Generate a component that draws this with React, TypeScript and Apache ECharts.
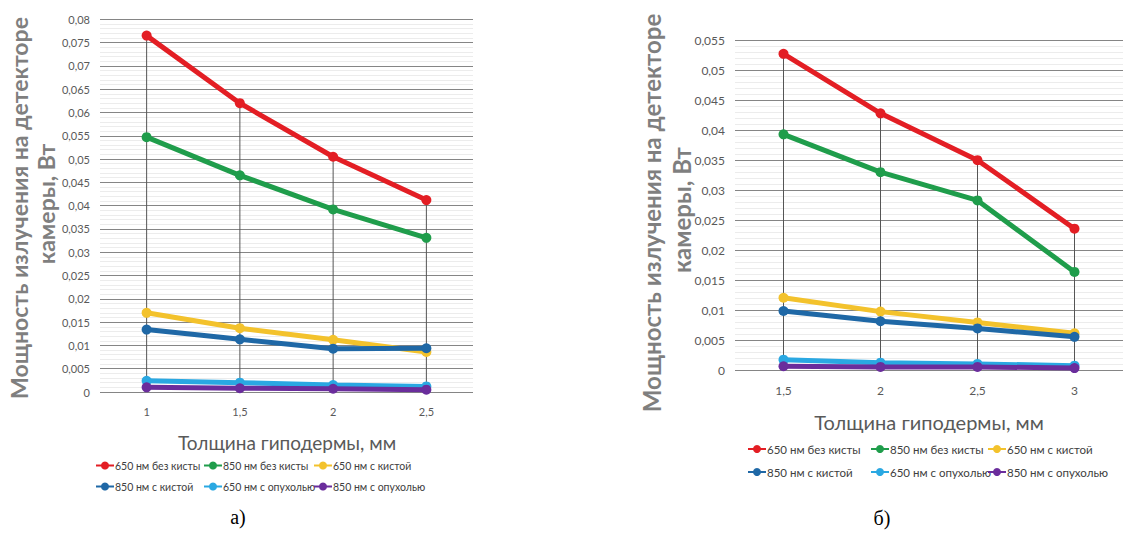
import React, { useEffect, useRef } from "react";
import * as echarts from "echarts";

const categoriesA = ["1", "1,5", "2", "2,5"];
const categoriesB = ["1,5", "2", "2,5", "3"];
const seriesNames = [
  "650 нм без кисты",
  "850 нм без кисты",
  "650 нм с кистой",
  "850 нм с кистой",
  "650 нм с опухолью",
  "850 нм с опухолью",
];
const seriesColors = ["#e31e24", "#1f9d4b", "#f3c22c", "#1f68a6", "#2aa8e2", "#6a2d9c"];

// chart a)
const a650NoCyst = [0.0765, 0.062, 0.0505, 0.0412];
const a850NoCyst = [0.0547, 0.0465, 0.0392, 0.0331];
const a650Cyst = [0.017, 0.0137, 0.0112, 0.0086];
const a850Cyst = [0.0134, 0.0113, 0.0093, 0.0094];
const a650Tumor = [0.0024, 0.002, 0.0015, 0.0012];
const a850Tumor = [0.001, 0.0008, 0.0007, 0.0005];

// chart б)
const b650NoCyst = [0.0527, 0.0428, 0.035, 0.0236];
const b850NoCyst = [0.0393, 0.033, 0.0283, 0.0164];
const b650Cyst = [0.0121, 0.0098, 0.008, 0.0062];
const b850Cyst = [0.0099, 0.0082, 0.007, 0.0056];
const b650Tumor = [0.0018, 0.0013, 0.0011, 0.0008];
const b850Tumor = [0.0007, 0.0006, 0.0006, 0.0004];

const yTitle1 = "Мощность излучения на детекторе";
const yTitle2 = "камеры, Вт";
const xTitle = "Толщина гиподермы, мм";

const FONT = "Lato, 'Open Sans', sans-serif";

export default function App() {
  const ref = useRef<HTMLDivElement>(null);
  useEffect(() => {
    if (!ref.current) return;
    const chart = echarts.init(ref.current, undefined, { renderer: "svg" });
    const dataA = [a650NoCyst, a850NoCyst, a650Cyst, a850Cyst, a650Tumor, a850Tumor];
    const dataB = [b650NoCyst, b850NoCyst, b650Cyst, b850Cyst, b650Tumor, b850Tumor];
    const fmt = (v: number) => String(+v.toFixed(3)).replace(".", ",");

    const mkSeries = (data: number[][], idx: number) =>
      data.map((vals, i) => ({
        type: "line",
        name: seriesNames[i],
        xAxisIndex: idx,
        yAxisIndex: idx,
        data: vals,
        symbol: "circle",
        symbolSize: 10,
        lineStyle: { width: 5, color: seriesColors[i] },
        itemStyle: { color: seriesColors[i] },
        z: 3 + i,
      }));
    const dropSeries = (vals: number[], idx: number) => ({
      type: "bar",
      name: "drop" + idx,
      xAxisIndex: idx,
      yAxisIndex: idx,
      data: vals,
      barWidth: 1,
      itemStyle: { color: "#555" },
      silent: true,
      z: 1,
    });

    const legendCols = [
      [95, 203, 313],
      [747, 870, 987],
    ];
    const legendRows = [
      [467, 488],
      [450, 473],
    ];
    const legendFont = [10.5, 11.5];
    const legends: any[] = [];
    for (let c = 0; c < 2; c++) {
      seriesNames.forEach((n, i) => {
        legends.push({
          data: [n],
          left: legendCols[c][i % 3],
          top: legendRows[c][Math.floor(i / 3)] - 7,
          padding: 0,
          itemWidth: 18,
          itemHeight: 10,
          textStyle: { fontSize: legendFont[c], color: "#404040", fontFamily: FONT, padding: [0, 0, 0, -4] },
        });
      });
    }

    const mkY = (max: number, gridIndex: number, fs: number) => ({
      type: "value",
      gridIndex,
      min: 0,
      max,
      interval: 0.005,
      axisLine: { show: false },
      axisTick: { show: false },
      axisLabel: { formatter: fmt, fontSize: fs, color: "#595959", fontFamily: FONT, margin: 10 },
      splitLine: { show: true, lineStyle: { color: "#858585", width: 1 } },
      minorTick: { show: false, splitNumber: 5 },
      minorSplitLine: { show: true, lineStyle: { color: "#ececec", width: 1 } },
    });
    const mkX = (cats: string[], gridIndex: number, fs: number) => ({
      type: "category",
      gridIndex,
      data: cats,
      boundaryGap: true,
      axisLine: { show: false },
      axisTick: { show: false },
      axisLabel: { fontSize: fs, color: "#595959", fontFamily: FONT, margin: 14 },
      splitLine: { show: false },
    });

    const vText = (x: number, y: number, text: string, fs: number) => ({
      type: "text",
      x,
      y,
      rotation: Math.PI / 2,
      style: {
        text,
        fontSize: fs,
        fontWeight: "bold",
        fill: "#7f7f7f",
        fontFamily: FONT,
        align: "center",
        verticalAlign: "middle",
      },
    });
    const hText = (x: number, y: number, text: string, fs: number, color: string, family: string, weight: any = "normal") => ({
      type: "text",
      x,
      y,
      style: { text, fontSize: fs, fill: color, fontFamily: family, fontWeight: weight, align: "center", verticalAlign: "middle" },
    });

    chart.setOption({
      animation: false,
      backgroundColor: "#ffffff",
      grid: [
        { left: 100, top: 19.3, width: 373, height: 372.7 },
        { left: 735, top: 40, width: 388, height: 330.5 },
      ],
      xAxis: [mkX(categoriesA, 0, 11), mkX(categoriesB, 1, 12)],
      yAxis: [mkY(0.08, 0, 11), mkY(0.055, 1, 12)],
      legend: legends,
      series: [
        dropSeries(a650NoCyst, 0),
        dropSeries(b650NoCyst, 1),
        ...mkSeries(dataA, 0),
        ...mkSeries(dataB, 1),
      ],
      graphic: [
        vText(19, 208, yTitle1, 23),
        vText(46, 204, yTitle2, 23),
        vText(651, 213, yTitle1, 24),
        vText(681, 210, yTitle2, 24),
        hText(287, 442, xTitle, 19, "#595959", FONT),
        hText(929, 422, xTitle, 20, "#595959", FONT),
        hText(238, 517, "а)", 20, "#000000", "'Liberation Serif', serif"),
        hText(882, 518, "б)", 20, "#000000", "'Liberation Serif', serif"),
      ],
    });
    return () => chart.dispose();
  }, []);
  return (
    <div
      ref={ref}
      style={{ position: "absolute", left: 0, top: 0, width: 1124, height: 539, background: "#fff" }}
    />
  );
}
